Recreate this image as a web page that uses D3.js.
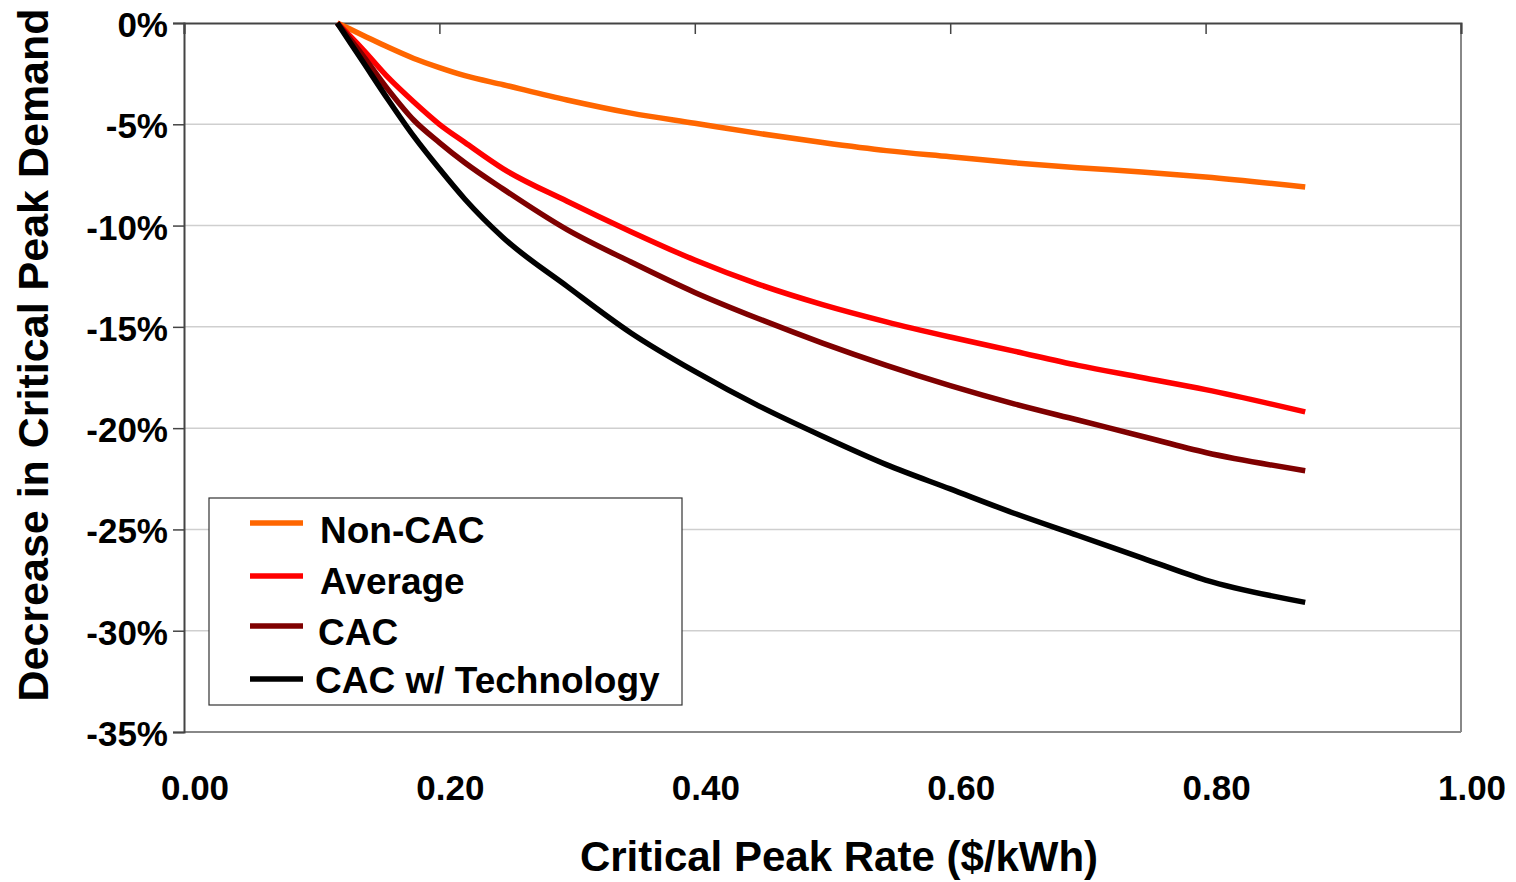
<!DOCTYPE html>
<html><head><meta charset="utf-8">
<script src="https://cdn.jsdelivr.net/npm/d3@7"></script>
<style>html,body{margin:0;padding:0;background:#fff;}svg{display:block;font-family:"Liberation Sans",Arial,sans-serif;font-weight:bold;}</style>
</head><body><svg id="c" width="1516" height="882"></svg>
<script>
const rates = [0.12,0.14,0.16,0.18,0.20,0.22,0.25,0.30,0.35,0.40,0.45,0.50,0.55,0.60,0.65,0.70,0.75,0.80,0.878];
const nonCAC = [0,-0.6,-1.2,-1.75,-2.2,-2.6,-3.05,-3.8,-4.45,-4.95,-5.45,-5.9,-6.3,-6.6,-6.9,-7.15,-7.35,-7.6,-8.1];
const average = [0,-1.3,-2.7,-3.9,-5.0,-5.9,-7.2,-8.8,-10.3,-11.7,-12.9,-13.9,-14.75,-15.5,-16.2,-16.9,-17.5,-18.1,-19.2];
const cac = [0,-1.6,-3.3,-4.8,-5.9,-6.9,-8.2,-10.2,-11.8,-13.3,-14.6,-15.8,-16.9,-17.9,-18.8,-19.6,-20.4,-21.2,-22.1];
const cacTech = [0,-1.9,-3.8,-5.6,-7.2,-8.7,-10.6,-13.0,-15.3,-17.2,-18.9,-20.4,-21.8,-23.0,-24.2,-25.3,-26.4,-27.5,-28.6];
const seriesNames = ["Non-CAC","Average","CAC","CAC w/ Technology"];
const seriesColors = ["#FF6600","#FF0000","#7F0000","#000000"];
const xTicks = [0,0.2,0.4,0.6,0.8,1.0];
const yTicks = [0,-5,-10,-15,-20,-25,-30,-35];
const xTitle = "Critical Peak Rate ($/kWh)";
const yTitle = "Decrease in Critical Peak Demand";

const svg = d3.select("#c");
const L=184, R=1461, T=23, B=732;
const x = d3.scaleLinear().domain([0,1]).range([L,R]);
const y = d3.scaleLinear().domain([0,-35]).range([T,B]);

// gridlines
svg.append("g").selectAll("line").data(yTicks.filter(d=>d!==0 && d!==-35)).join("line")
  .attr("x1",L).attr("x2",R).attr("y1",d=>y(d)).attr("y2",d=>y(d))
  .attr("stroke","#cfcfcf").attr("stroke-width",1.5);

// right & bottom border
svg.append("line").attr("x1",R).attr("x2",R).attr("y1",T).attr("y2",B).attr("stroke","#888").attr("stroke-width",2);
svg.append("line").attr("x1",L).attr("x2",R).attr("y1",B).attr("y2",B).attr("stroke","#888").attr("stroke-width",2);

// y axis
const yAxis = d3.axisLeft(y).tickValues(yTicks).tickSize(11).tickFormat("");
const gy = svg.append("g").attr("transform",`translate(${L},0)`).call(yAxis);
gy.select(".domain").attr("stroke","#444").attr("stroke-width",2);
gy.selectAll(".tick line").attr("stroke","#444").attr("stroke-width",1.5);
svg.append("g").selectAll("text").data(yTicks).join("text")
  .attr("x",168).attr("y",d=>y(d)+14).attr("text-anchor","end")
  .attr("font-size",35).text(d=>d+"%");

// x axis at top (crossing at 0)
const xAxis = d3.axisBottom(x).tickValues(xTicks).tickSize(11).tickFormat("");
const gx = svg.append("g").attr("transform",`translate(0,${T})`).call(xAxis);
gx.select(".domain").attr("stroke","#444").attr("stroke-width",2);
gx.selectAll(".tick line").attr("stroke","#444").attr("stroke-width",1.5);
svg.append("g").selectAll("text").data(xTicks).join("text")
  .attr("x",d=>x(d)+11).attr("y",800).attr("text-anchor","middle")
  .attr("font-size",35).text(d=>d.toFixed(2));

// titles
svg.append("text").attr("x",839).attr("y",871).attr("text-anchor","middle").attr("font-size",42).text(xTitle);
svg.append("text").attr("transform","translate(48,355) rotate(-90)").attr("text-anchor","middle").attr("font-size",43).text(yTitle);

// lines
const allSeries = [nonCAC,average,cac,cacTech];
const line = d3.line().x((d,i)=>x(rates[i])).y(d=>y(d)).curve(d3.curveMonotoneX);
svg.append("g").selectAll("path").data(allSeries).join("path")
  .attr("d",line).attr("fill","none")
  .attr("stroke",(d,i)=>seriesColors[i]).attr("stroke-width",5.5).attr("stroke-linejoin","round");

// legend
const lg = svg.append("g");
lg.append("rect").attr("x",209).attr("y",498).attr("width",473).attr("height",207)
  .attr("fill","#fff").attr("stroke","#333").attr("stroke-width",1.2);
const lineY = [523,576,626,679];
const textY = [543,594,645,693];
const textX = [320,320,318,315];
seriesNames.forEach((n,i)=>{
  lg.append("line").attr("x1",250).attr("x2",303).attr("y1",lineY[i]).attr("y2",lineY[i])
    .attr("stroke",seriesColors[i]).attr("stroke-width",5.5);
  lg.append("text").attr("x",textX[i]).attr("y",textY[i]).attr("font-size",37).text(n);
});
</script></body></html>
